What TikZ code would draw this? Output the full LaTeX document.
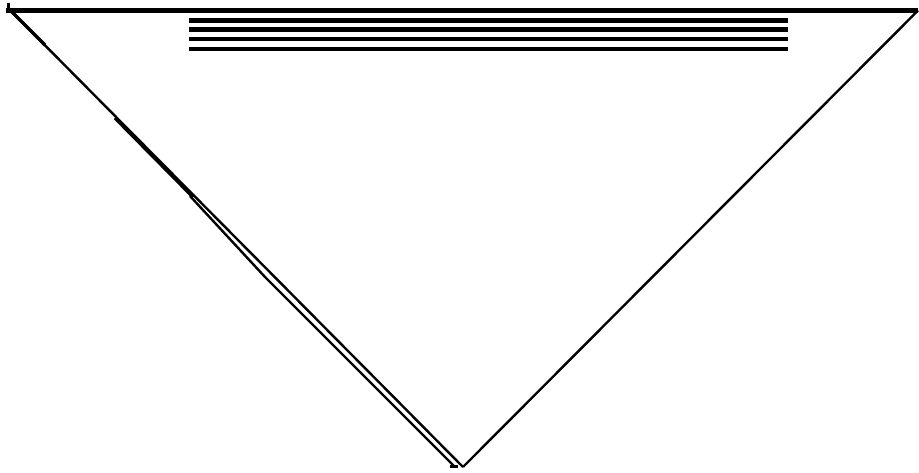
\documentclass[tikz,border=0pt]{standalone}
\begin{document}
\begin{tikzpicture}[x=1pt,y=-1pt,
  thickbar/.style={line width=4.6pt,line cap=butt},
  edge/.style={line width=2.4pt,line cap=butt},
  heavyedge/.style={line width=3.4pt,line cap=butt}]
\useasboundingbox (0,0) rectangle (919,473);
% corners
\coordinate (tl) at (8,10.5);
\coordinate (tr) at (918,10.5);
\coordinate (apex) at (463,467);
% top edge
\draw[thickbar] (6,10.5) -- (tr);
\draw[line width=3pt] (8,3) -- (8,10);
% four bars
\foreach \yy in {20.5,29.3,39.2,49.2}
  \draw[thickbar] (189,\yy) -- (788,\yy);
% right edge
\draw[edge] (tr) -- (apex);
% left edge
\draw[edge] (8,8) -- (apex);
\draw[heavyedge] (8,8) -- (45,45);
\draw[heavyedge] (115,118) -- (193,197);
% second (inner) line on left side
\coordinate (s1) at (190,196);
\coordinate (s2) at (265,277);
\coordinate (s3) at (455,467);
\draw[edge] (s1) -- (s2) -- (s3);
\draw[line width=3pt] (450,466.5) -- (458,466.5);
\end{tikzpicture}
\end{document}
